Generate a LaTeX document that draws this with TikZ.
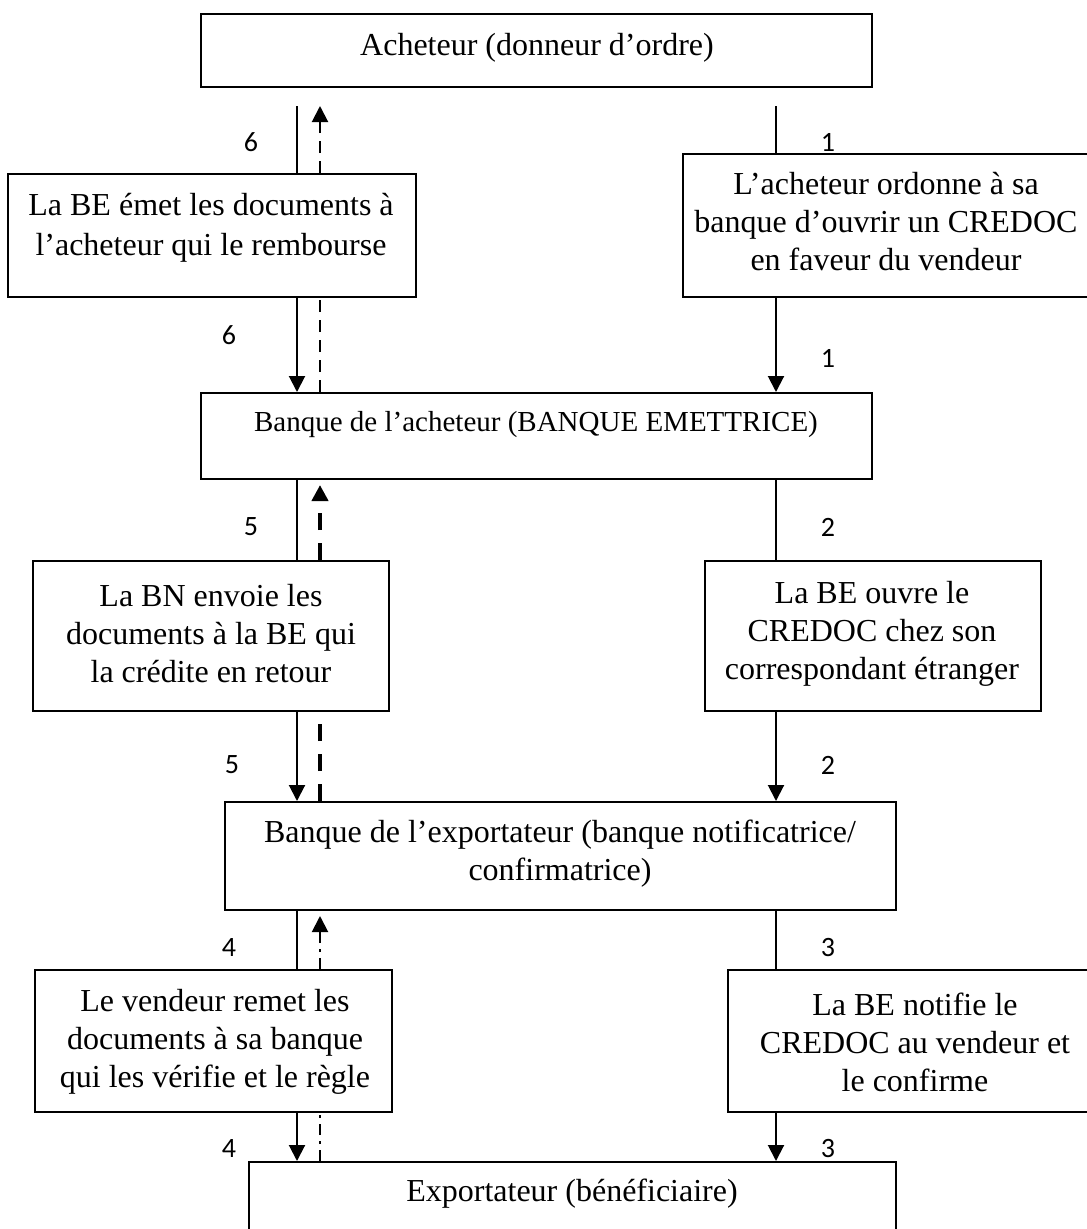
\documentclass[tikz,border=0pt]{standalone}
\usepackage{fontspec}
\setmainfont{Liberation Serif}
\newfontfamily\numfont{Carlito}
\usetikzlibrary{arrows.meta}
\begin{document}
\begin{tikzpicture}[x=1pt,y=-1pt,
  box/.style={draw, line width=2pt, inner sep=0pt},
  txt/.style={align=center, font=\fontsize{32}{38}\selectfont, inner sep=0pt},
  num/.style={font=\numfont\fontsize{28}{32}\selectfont, inner sep=0pt},
  flow/.style={line width=2pt},
  tip/.style={-{Triangle[length=16pt,width=16pt]}},
  dashA/.style={line width=2pt, dash pattern=on 12pt off 8pt},
  dashB/.style={line width=4.5pt, dash pattern=on 17pt off 13pt},
  dashC/.style={line width=2pt, dash pattern=on 11pt off 6pt on 3pt off 6pt}]
\clip (0,0) rectangle (1087,1229);

% boxes
\node[box, minimum width=671pt, minimum height=73pt]  (top)   at (536.5,50.5) {};
\node[box, minimum width=408pt, minimum height=123pt] (b6)    at (212,235.5) {};
\node[box, minimum width=417pt, minimum height=143pt] (b1)    at (891.5,225.5) {};
\node[box, minimum width=671pt, minimum height=86pt]  (bankA) at (536.5,436) {};
\node[box, minimum width=356pt, minimum height=150pt] (b5)    at (211,636) {};
\node[box, minimum width=336pt, minimum height=150pt] (b2)    at (873,636) {};
\node[box, minimum width=671pt, minimum height=108pt] (bankE) at (560.5,856) {};
\node[box, minimum width=357pt, minimum height=142pt] (b4)    at (213.5,1041) {};
\node[box, minimum width=372pt, minimum height=142pt] (b3)    at (914,1041) {};
\node[box, minimum width=647pt, minimum height=78pt]  (bot)   at (572.5,1201) {};

% box texts
\node[txt] (ttop) at (537,48) {Acheteur (donneur d’ordre)};
\node[txt, font=\fontsize{32}{40}\selectfont] (t6) at (211,228) {La BE émet les documents à\\l’acheteur qui le rembourse};
\node[txt] (t1) at (886,222) {L’acheteur ordonne à sa\\banque d’ouvrir un CREDOC\\en faveur du vendeur};
\node[txt, font=\fontsize{29}{36}\selectfont] (tA) at (536,425) {Banque de l’acheteur (BANQUE EMETTRICE)};
\node[txt] (t5) at (211,634) {La BN envoie les\\documents à la BE qui\\la crédite en retour};
\node[txt] (t2) at (872,634) {La BE ouvre le\\CREDOC chez son\\correspondant étranger};
\node[txt] (tE) at (560,854) {Banque de l’exportateur (banque notificatrice/\\confirmatrice)};
\node[txt] (t4) at (215,1042) {Le vendeur remet les\\documents à sa banque\\qui les vérifie et le règle};
\node[txt] (t3) at (915,1042) {La BE notifie le\\CREDOC au vendeur et\\le confirme};
\node[txt] (tbot) at (572,1194) {Exportateur (bénéficiaire)};

% columns of the connectors
\coordinate (lx) at (297,0);
\coordinate (dx) at (320,0);
\coordinate (rx) at (776,0);

% solid flows
\draw[flow] ([yshift=-18pt]top.south -| lx) -- (b6.north -| lx);
\draw[flow,tip] (b6.south -| lx) -- (bankA.north -| lx);
\draw[flow] ([yshift=-18pt]top.south -| rx) -- (b1.north -| rx);
\draw[flow,tip] (b1.south -| rx) -- (bankA.north -| rx);
\draw[flow] (bankA.south -| lx) -- (b5.north -| lx);
\draw[flow,tip] (b5.south -| lx) -- (bankE.north -| lx);
\draw[flow] (bankA.south -| rx) -- (b2.north -| rx);
\draw[flow,tip] (b2.south -| rx) -- (bankE.north -| rx);
\draw[flow] (bankE.south -| lx) -- (b4.north -| lx);
\draw[flow,tip] (b4.south -| lx) -- (bot.north -| lx);
\draw[flow] (bankE.south -| rx) -- (b3.north -| rx);
\draw[flow,tip] (b3.south -| rx) -- (bot.north -| rx);

% returning flows
\draw[dashA,tip] (b6.north -| dx) -- ([yshift=-18pt]top.south -| dx);
\draw[dashA] (bankA.north -| dx) -- (b6.south -| dx);
\draw[dashB,tip,shorten >=5pt] (b5.north -| dx) -- (bankA.south -| dx);
\draw[dashB] (bankE.north -| dx) -- (b5.south -| dx);
\draw[dashC,tip,shorten >=5pt] (b4.north -| dx) -- (bankE.south -| dx);
\draw[dashC] (bot.north -| dx) -- (b4.south -| dx);

% step numbers
\node[num] (n6a) at (251,142) {6};
\node[num] (n6b) at (229,335) {6};
\node[num] (n1a) at (828,142) {1};
\node[num] (n1b) at (828,358) {1};
\node[num] (n5a) at (251,527) {5};
\node[num] (n5b) at (232,765) {5};
\node[num] (n2a) at (828,527) {2};
\node[num] (n2b) at (828,765) {2};
\node[num] (n4a) at (229,947) {4};
\node[num] (n4b) at (229,1148) {4};
\node[num] (n3a) at (828,947) {3};
\node[num] (n3b) at (828,1148) {3};
\end{tikzpicture}
\end{document}
